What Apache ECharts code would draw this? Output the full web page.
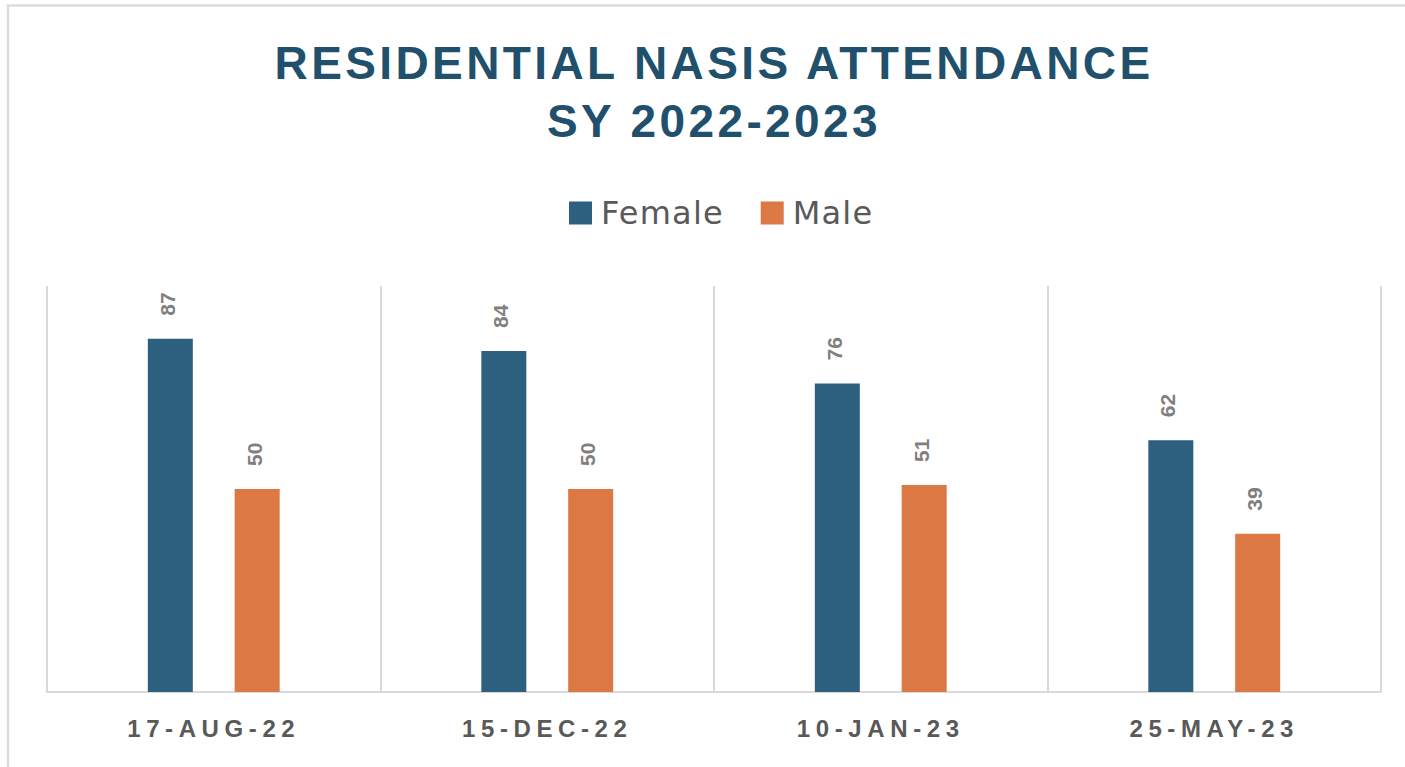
<!DOCTYPE html>
<html>
<head>
<meta charset="utf-8">
<script src="https://cdn.jsdelivr.net/npm/echarts@6/dist/echarts.min.js"></script>
<style>
  html, body { margin: 0; padding: 0; background: #ffffff; }
  #chart { width: 1405px; height: 767px; }
  #chart text[style*="46px"] { letter-spacing: 3.4px; }
  #chart text[style*="24px"] { letter-spacing: 5.6px; }
  #chart text[style*="32px"] { letter-spacing: 1.2px; }
</style>
</head>
<body>
<div id="chart"></div>
<script>
const titleLines = ['RESIDENTIAL NASIS ATTENDANCE', 'SY 2022-2023'];
const categories = ['17-AUG-22', '15-DEC-22', '10-JAN-23', '25-MAY-23'];
const seriesNames = ['Female', 'Male'];
const femaleValues = [87, 84, 76, 62];
const maleValues = [50, 50, 51, 39];
const colors = ['#2d5f7e', '#db7843'];

const chart = echarts.init(document.getElementById('chart'), null, { renderer: 'svg' });

const labelOpt = {
  show: true,
  position: 'top',
  rotate: 90,
  align: 'left',
  verticalAlign: 'middle',
  distance: 23,
  offset: [0, -3],
  color: '#7f7f7f',
  fontFamily: 'Liberation Sans',
  fontWeight: 'bold',
  fontSize: 21
};

chart.setOption({
  animation: false,
  backgroundColor: '#ffffff',
  color: colors,
  graphic: [{
    type: 'rect',
    shape: { x: 8, y: 5.5, width: 1500, height: 900 },
    style: { fill: 'none', stroke: '#dcdcdc', lineWidth: 2.5 },
    silent: true,
    z: -10
  }],
  title: {
    text: titleLines.join('\n'),
    left: 714,
    textAlign: 'center',
    top: 34,
    padding: 0,
    textStyle: {
      fontFamily: 'Liberation Sans',
      fontWeight: 'bold',
      fontSize: 46,
      lineHeight: 58,
      color: '#21506d'
    }
  },
  legend: {
    data: seriesNames,
    left: 569,
    top: 197,
    padding: 0,
    icon: 'rect',
    itemWidth: 23,
    itemHeight: 23,
    itemGap: 44,
    textStyle: {
      fontFamily: 'DejaVu Sans',
      fontSize: 32,
      color: '#595959',
      padding: [0, 0, 0, 4]
    }
  },
  grid: { left: 47, right: 24, top: 286, bottom: 75, containLabel: false },
  xAxis: {
    type: 'category',
    data: categories,
    axisLine: { lineStyle: { color: '#d9d9d9', width: 2 } },
    axisTick: { show: false },
    splitLine: { show: true, lineStyle: { color: '#d9d9d9', width: 2 } },
    axisLabel: {
      interval: 0,
      margin: 24,
      color: '#595959',
      fontFamily: 'Liberation Sans',
      fontWeight: 'bold',
      fontSize: 24
    }
  },
  yAxis: {
    type: 'value',
    min: 0,
    max: 100,
    show: false,
    splitLine: { show: false }
  },
  series: [
    {
      name: seriesNames[0],
      type: 'bar',
      data: femaleValues,
      barWidth: 45,
      barGap: '93%',
      itemStyle: { color: colors[0] },
      label: labelOpt
    },
    {
      name: seriesNames[1],
      type: 'bar',
      data: maleValues,
      barWidth: 45,
      barGap: '93%',
      itemStyle: { color: colors[1] },
      label: labelOpt
    }
  ]
});
</script>
</body>
</html>
